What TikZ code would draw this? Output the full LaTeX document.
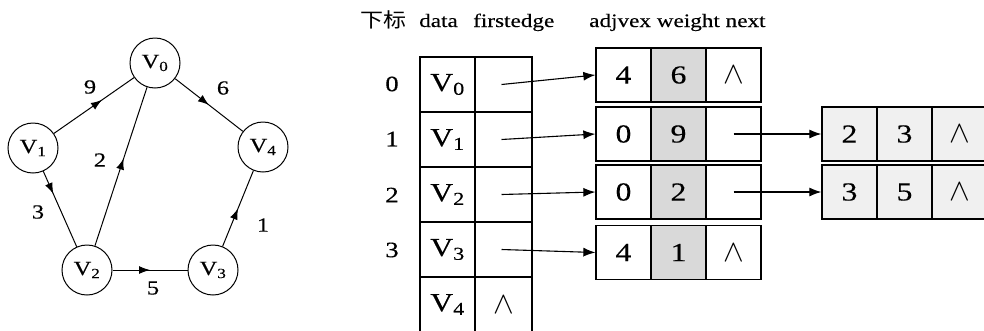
\documentclass[tikz,border=0pt]{standalone}
\usepackage{graphicx}
\usepackage{fontspec}
\setmainfont{Liberation Serif}[FakeStretch=1.22,FakeBold=0.3]
\newfontfamily\cjkfont{Noto Sans CJK SC}[FakeStretch=1.15]
\newcommand{\nul}{\scalebox{3.1}{\fontsize{10}{10}\selectfont$\wedge$}}
\usetikzlibrary{arrows.meta,decorations.markings}
\begin{document}
\begin{tikzpicture}[x=1pt,y=-1pt,
  vn/.style={circle, draw, line width=1pt, minimum size=50pt, inner sep=0pt, font=\fontsize{20}{20}\selectfont},
  wt/.style={inner sep=0pt, font=\fontsize{20}{20}\selectfont},
  garrow/.style={draw, line width=1pt, postaction={decorate},
    decoration={markings, mark=at position #1 with {\arrow{Latex[length=11pt,width=8pt]}}}},
  garrow/.default=0.55,
  hd/.style={inner sep=0pt, anchor=base west, font=\fontsize{19}{19}\selectfont},
  idx/.style={inner sep=0pt, font=\fontsize{22}{22}\selectfont},
  cell/.style={draw, line width=1.3pt, minimum width=55pt, minimum height=54pt, inner sep=0pt, font=\fontsize{26}{26}\selectfont},
  vcell/.style={cell, minimum height=55pt},
  fcell/.style={vcell, minimum width=57pt},
  wcell/.style={cell, fill=black!15},
  gcell/.style={cell, fill=black!6},
  tarrow/.style={-{Latex[length=12pt,width=9pt]}, line width=1.1pt}
]
\useasboundingbox (0,0) rectangle (984,330);
\fill[white] (0,0) rectangle (984,330);

% ---------- graph ----------
\node[vn] (v0) at (155,63) {V\textsubscript{0}};
\node[vn] (v1) at (33,148) {V\textsubscript{1}};
\node[vn] (v2) at (87,270) {V\textsubscript{2}};
\node[vn] (v3) at (213,270) {V\textsubscript{3}};
\node[vn] (v4) at (263,147) {V\textsubscript{4}};

\draw[garrow=0.6] (v1) -- (v0);
\draw[garrow=0.5] (v0) -- (v4);
\draw[garrow=0.55] (v2) -- (v0);
\draw[garrow=0.3] (v1) -- (v2);
\draw[garrow=0.5] (v2) -- (v3);
\draw[garrow=0.5] (v3) -- (v4);

\node[wt] (w9) at (90,87) {9};
\node[wt] (w6) at (223,88) {6};
\node[wt] (w2) at (100,160) {2};
\node[wt] (w3) at (38,212) {3};
\node[wt] (w1) at (263,225) {1};
\node[wt] (w5) at (153,288) {5};

% ---------- headers ----------
\node[hd] (h0) at (360,27) {\cjkfont\fontsize{20}{20}\selectfont 下标};
\node[hd] (h1) at (419,27) {data};
\node[hd] (h2) at (473,27) {firstedge};
\node[hd] (h3) at (589,27) {adjvex weight next};

% ---------- indices ----------
\node[idx] (i0) at (392,84) {0};
\node[idx] (i1) at (392,139) {1};
\node[idx] (i2) at (392,195) {2};
\node[idx] (i3) at (392,250) {3};

% ---------- vertex table ----------
\node[vcell] (d0) at (447.5,84.5) {V\textsubscript{0}};
\node[fcell] (fe0) at (503.5,84.5) {};
\node[vcell] (d1) at (447.5,139.5) {V\textsubscript{1}};
\node[fcell] (fe1) at (503.5,139.5) {};
\node[vcell] (d2) at (447.5,194.5) {V\textsubscript{2}};
\node[fcell] (fe2) at (503.5,194.5) {};
\node[vcell] (d3) at (447.5,249.5) {V\textsubscript{3}};
\node[fcell] (fe3) at (503.5,249.5) {};
\node[vcell] (d4) at (447.5,304.5) {V\textsubscript{4}};
\node[fcell] (fe4) at (503.5,304.5) {\nul};

% ---------- edge list (first) ----------
\node[cell]  (e0a) at (623.5,75) {4};
\node[wcell] (e0b) at (678.5,75) {6};
\node[cell]  (e0c) at (733.5,75) {\nul};

\node[cell]  (e1a) at (623.5,134) {0};
\node[wcell] (e1b) at (678.5,134) {9};
\node[cell]  (e1c) at (733.5,134) {};

\node[cell]  (e2a) at (623.5,192) {0};
\node[wcell] (e2b) at (678.5,192) {2};
\node[cell]  (e2c) at (733.5,192) {};

\node[cell]  (e3a) at (623.5,252.5) {4};
\node[wcell] (e3b) at (678.5,252.5) {1};
\node[cell]  (e3c) at (733.5,252.5) {\nul};

% ---------- edge list (second) ----------
\node[gcell] (f1a) at (849.5,134) {2};
\node[gcell] (f1b) at (904.5,134) {3};
\node[gcell] (f1c) at (959.5,134) {\nul};

\node[gcell] (f2a) at (849.5,192) {3};
\node[gcell] (f2b) at (904.5,192) {5};
\node[gcell] (f2c) at (959.5,192) {\nul};

% ---------- pointers ----------
\draw[tarrow] ([xshift=-2pt]fe0.center) -- (e0a.west);
\draw[tarrow] ([xshift=-2pt]fe1.center) -- (e1a.west);
\draw[tarrow] ([xshift=-2pt]fe2.center) -- (e2a.west);
\draw[tarrow] ([xshift=-2pt]fe3.center) -- (e3a.west);
\draw[tarrow] (e1c.center) -- (f1a.west);
\draw[tarrow] (e2c.center) -- (f2a.west);
\end{tikzpicture}
\end{document}
